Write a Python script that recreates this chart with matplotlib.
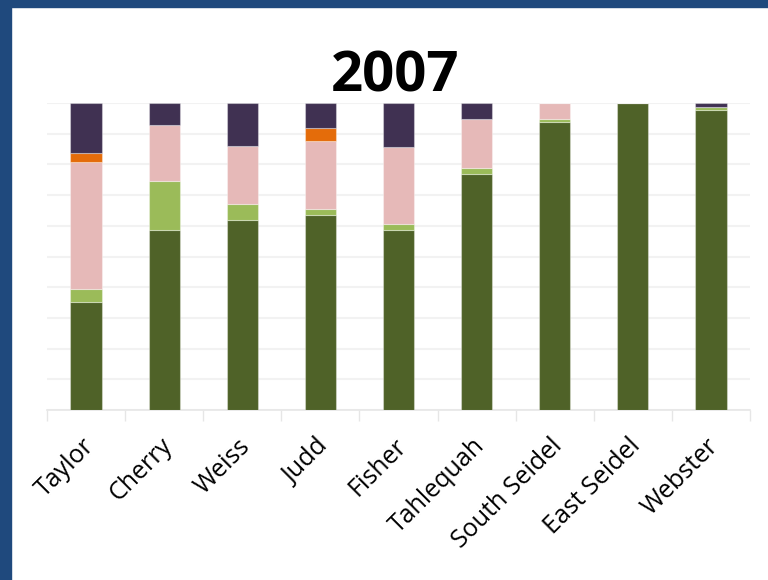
import numpy as np
import matplotlib.pyplot as plt
from matplotlib.patches import Rectangle

# share of each class per site, percent (2007)
sites = ['Taylor', 'Cherry', 'Weiss', 'Judd', 'Fisher', 'Tahlequah',
         'South Seidel', 'East Seidel', 'Webster']
darkGreen = [35.3, 58.7, 62.0, 63.5, 58.5, 76.9, 93.7, 100.0, 97.8]
lightGreen = [4.1, 16.0, 5.0, 2.1, 2.1, 1.9, 1.1, 0.0, 0.9]
pink = [41.3, 18.0, 18.9, 22.1, 25.1, 16.0, 5.2, 0.0, 0.0]
orange = [2.9, 0.0, 0.0, 4.2, 0.0, 0.0, 0.0, 0.0, 0.0]
purple = [16.4, 7.3, 14.1, 8.1, 14.3, 5.2, 0.0, 0.0, 1.3]

series = [darkGreen, lightGreen, pink, orange, purple]
colors = ['#4f6228', '#9bbb59', '#e6b9b8', '#e46c0a', '#403152']

fg = plt.figure(figsize=(7.68, 5.8), dpi=100)
fg.patches.append(Rectangle((0, 0), 11/768., 1, transform=fg.transFigure,
                            color='#1f497d', zorder=10))
fg.patches.append(Rectangle((0, 1 - 7/580.), 1, 7/580., transform=fg.transFigure,
                            color='#1f497d', zorder=10))

ax = fg.add_axes([47/768., 170/580., 703/768., 307/580.])
x = np.arange(len(sites))
bottom = np.zeros(len(sites))
for vals, c in zip(series, colors):
  vals = np.array(vals)
  ax.bar(x, vals, 0.4, bottom=bottom, color=c, edgecolor=(1, 1, 1, 0.35),
         linewidth=0.8, zorder=3)
  bottom += vals

ax.set_xlim(-0.5, len(sites) - 0.5)
ax.set_ylim(0, 100)
ax.set_yticks(np.arange(0, 101, 10))
ax.set_yticklabels([])
ax.tick_params(axis='y', length=0)
ax.grid(axis='y', color='#f2f2f2', linewidth=1.5, zorder=0)

ax.set_xticks(x - 0.06)
ax.set_xticklabels(sites, rotation=45, ha='right', rotation_mode='anchor',
                   fontsize=18, family='Open Sans')
ax.tick_params(axis='x', which='major', length=0, pad=17)
ax.set_xticks(np.arange(-0.5, len(sites), 1), minor=True)
ax.tick_params(axis='x', which='minor', length=8, color='#e6e6e6', width=1)

for s in ['top', 'right', 'left']:
  ax.spines[s].set_visible(False)
ax.spines['bottom'].set_color('#e6e6e6')
ax.spines['bottom'].set_linewidth(1.2)

fg.text(395/768., 1 - 92/580., '2007', ha='center', va='baseline',
        fontsize=40.5, fontweight='bold', family='Open Sans')

fg.savefig('out.png', dpi=100)
